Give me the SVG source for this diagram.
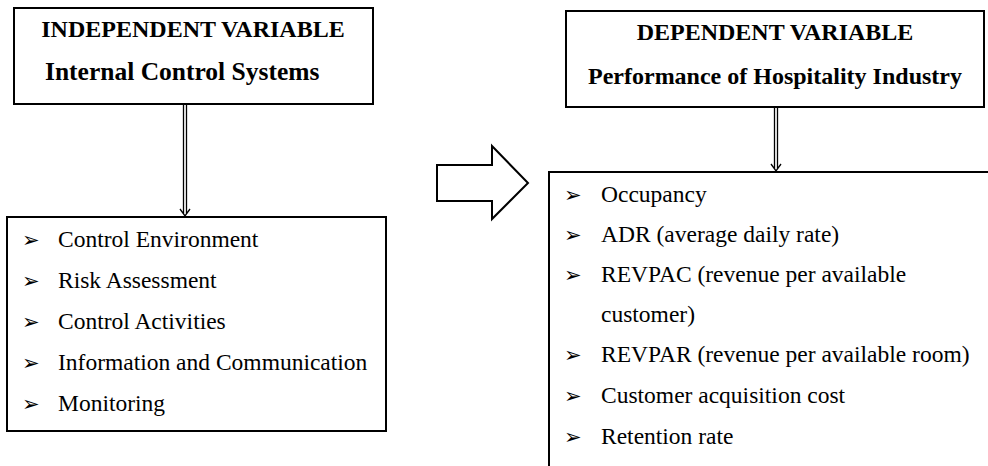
<svg xmlns="http://www.w3.org/2000/svg" width="988" height="466" viewBox="0 0 988 466">
<style>
.box{fill:#fff;stroke:#000;stroke-width:2}
.ttl{font-family:"Liberation Serif","Times New Roman",serif;font-weight:bold;font-size:24px;fill:#000}
.it{font-family:"Liberation Serif","Times New Roman",serif;font-size:23.5px;fill:#000}
.bl{font-family:"DejaVu Sans",sans-serif;font-size:21px;fill:#000}
.con{fill:none;stroke:#000;stroke-width:1.3}
</style>
<rect width="988" height="466" fill="#fff"/>
<g id="independent">
<rect class="box" x="14" y="8" width="359" height="96"/>
<text class="ttl" x="193" y="37" text-anchor="middle">INDEPENDENT VARIABLE</text>
<text class="ttl" x="45" y="80" style="font-size:25.5px">Internal Control Systems</text>
</g>
<g id="ics-list">
<rect class="box" x="7" y="217" width="379" height="214"/>
<text class="bl" x="22" y="247">➢</text><text class="it" x="58" y="247">Control Environment</text>
<text class="bl" x="22" y="288">➢</text><text class="it" x="58" y="288">Risk Assessment</text>
<text class="bl" x="22" y="329">➢</text><text class="it" x="58" y="329">Control Activities</text>
<text class="bl" x="22" y="370">➢</text><text class="it" x="58" y="370">Information and Communication</text>
<text class="bl" x="22" y="411">➢</text><text class="it" x="58" y="411">Monitoring</text>
</g>
<g id="dependent">
<rect class="box" x="566" y="11" width="418" height="96"/>
<text class="ttl" x="775" y="40" text-anchor="middle">DEPENDENT VARIABLE</text>
<text class="ttl" x="775" y="84" text-anchor="middle">Performance of Hospitality Industry</text>
</g>
<g id="performance-list">
<rect class="box" x="549" y="172" width="460" height="320"/>
<text class="bl" x="564" y="202">➢</text><text class="it" x="601" y="202">Occupancy</text>
<text class="bl" x="564" y="242">➢</text><text class="it" x="601" y="242">ADR (average daily rate)</text>
<text class="bl" x="564" y="282">➢</text><text class="it" x="601" y="282">REVPAC (revenue per available</text>
<text class="it" x="601" y="322">customer)</text>
<text class="bl" x="564" y="362">➢</text><text class="it" x="601" y="362">REVPAR (revenue per available room)</text>
<text class="bl" x="564" y="403">➢</text><text class="it" x="601" y="403">Customer acquisition cost</text>
<text class="bl" x="564" y="444">➢</text><text class="it" x="601" y="444">Retention rate</text>
</g>
<g id="connectors">
<path class="con" d="M183.5 105V214M186.5 105V214M180 209L185 216L190 209"/>
<path class="con" d="M774.5 108V169M777.5 108V169M771 164L776 171L781 164"/>
<polygon points="437,165 492,165 492,146 528,183 492,219 492,201 437,201" fill="#fff" stroke="#000" stroke-width="2"/>
</g>
</svg>
